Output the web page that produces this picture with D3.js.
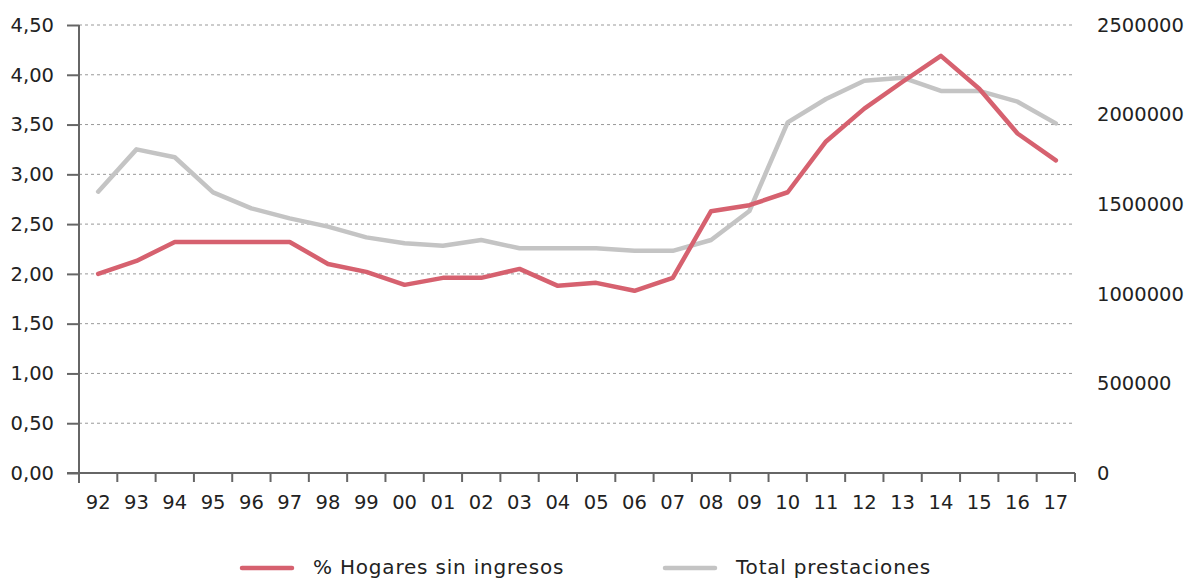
<!DOCTYPE html>
<html>
<head>
<meta charset="utf-8">
<script src="https://cdn.jsdelivr.net/npm/d3@7"></script>
<style>
  body { margin: 0; background: #fff; }
  svg text { font-family: "DejaVu Sans", sans-serif; fill: #222; }
</style>
</head>
<body>
<div class="chart"></div>
<script>
var years = ["92","93","94","95","96","97","98","99","00","01","02","03","04","05","06","07","08","09","10","11","12","13","14","15","16","17"];
var hogares = [2.00,2.13,2.32,2.32,2.32,2.32,2.10,2.02,1.89,1.96,1.96,2.05,1.88,1.91,1.83,1.96,2.63,2.69,2.82,3.33,3.66,3.93,4.19,3.86,3.41,3.14];
var prestaciones = [1570000,1806000,1762000,1566000,1477000,1421000,1375000,1315000,1282000,1268000,1300000,1254000,1254000,1254000,1240000,1240000,1300000,1462000,1957000,2087000,2189000,2206000,2132000,2132000,2072000,1951000];
var leftTicks = [0,0.5,1,1.5,2,2.5,3,3.5,4,4.5];
var rightTicks = [0,500000,1000000,1500000,2000000,2500000];
var seriesNames = ["% Hogares sin ingresos","Total prestaciones"];

var svgWidth = 1193;
var svgHeight = 579;
var margin = {top: 25, right: 118, bottom: 106, left: 79};
var width = svgWidth - margin.left - margin.right;
var height = svgHeight - margin.top - margin.bottom;

var svg = d3.select(".chart")
  .append("svg")
  .attr("width", svgWidth)
  .attr("height", svgHeight);

var chartGroup = svg.append("g")
  .attr("transform", `translate(${margin.left}, ${margin.top})`);

var xScale = d3.scaleBand().domain(years).range([0, width]);
var yLeft = d3.scaleLinear().domain([0, 4.5]).range([height, 0]);
var yRight = d3.scaleLinear().domain([0, 2500000]).range([height, 0]);

// dashed gridlines
chartGroup.selectAll(".grid")
  .data(leftTicks.filter(d => d > 0))
  .enter()
  .append("line")
  .attr("x1", 0)
  .attr("x2", width)
  .attr("y1", d => yLeft(d))
  .attr("y2", d => yLeft(d))
  .attr("stroke", "#999")
  .attr("stroke-width", 1)
  .attr("stroke-dasharray", "3,3");

// left axis
var leftAxis = d3.axisLeft(yLeft)
  .tickValues(leftTicks)
  .tickFormat(d => d3.format(".2f")(d).replace(".", ","))
  .tickSize(12)
  .tickPadding(13)
  .tickSizeOuter(0);
var gl = chartGroup.append("g").call(leftAxis);
gl.select(".domain").attr("stroke", "#666").attr("stroke-width", 2)
  .attr("d", `M0,0V${height + 10}`);
gl.selectAll(".tick line").attr("stroke", "#666").attr("stroke-width", 2);
gl.selectAll("text").attr("font-size", "19.5px").style("fill", "#222");

// right axis (labels only)
var rightAxis = d3.axisRight(yRight)
  .tickValues(rightTicks)
  .tickFormat(d3.format("d"))
  .tickSize(0)
  .tickPadding(22);
var gr = chartGroup.append("g")
  .attr("transform", `translate(${width}, 0)`)
  .call(rightAxis);
gr.select(".domain").remove();
gr.selectAll("text").attr("font-size", "19.5px").style("fill", "#222");

// bottom axis with ticks at band boundaries
var gb = chartGroup.append("g").attr("transform", `translate(0, ${height})`);
gb.append("line")
  .attr("x1", -12).attr("x2", width)
  .attr("y1", 0).attr("y2", 0)
  .attr("stroke", "#666").attr("stroke-width", 2);
gb.selectAll(".xtick")
  .data(years.concat(["end"]))
  .enter()
  .append("line")
  .attr("x1", (d, i) => i * xScale.step())
  .attr("x2", (d, i) => i * xScale.step())
  .attr("y1", 0).attr("y2", 9)
  .attr("stroke", "#666").attr("stroke-width", 2);
gb.selectAll(".xlabel")
  .data(years)
  .enter()
  .append("text")
  .attr("x", d => xScale(d) + xScale.bandwidth() / 2)
  .attr("y", 36)
  .attr("text-anchor", "middle")
  .attr("font-size", "19.5px")
  .text(d => d);

// lines
var xc = (d, i) => xScale(years[i]) + xScale.bandwidth() / 2;
var lineLeft = d3.line().x(xc).y(d => yLeft(d));
var lineRight = d3.line().x(xc).y(d => yRight(d));

chartGroup.append("path")
  .datum(prestaciones)
  .attr("d", lineRight)
  .attr("fill", "none")
  .attr("stroke", "#c4c4c4")
  .attr("stroke-width", 4.5)
  .attr("stroke-linejoin", "round")
  .attr("stroke-linecap", "round");

chartGroup.append("path")
  .datum(hogares)
  .attr("d", lineLeft)
  .attr("fill", "none")
  .attr("stroke", "#d6616f")
  .attr("stroke-width", 4.5)
  .attr("stroke-linejoin", "round")
  .attr("stroke-linecap", "round");

// legend
var legend = svg.append("g");
var legendItems = [
  {name: seriesNames[0], color: "#d6616f", x: 240},
  {name: seriesNames[1], color: "#c4c4c4", x: 663}
];
legendItems.forEach(function (item) {
  legend.append("line")
    .attr("x1", item.x + 2).attr("x2", item.x + 52)
    .attr("y1", 568).attr("y2", 568)
    .attr("stroke", item.color)
    .attr("stroke-width", 4.5)
    .attr("stroke-linecap", "round");
  legend.append("text")
    .attr("x", item.x + 73)
    .attr("y", 574)
    .attr("font-size", "20px")
    .attr("letter-spacing", "0.8px")
    .text(item.name);
});
</script>
</body>
</html>
